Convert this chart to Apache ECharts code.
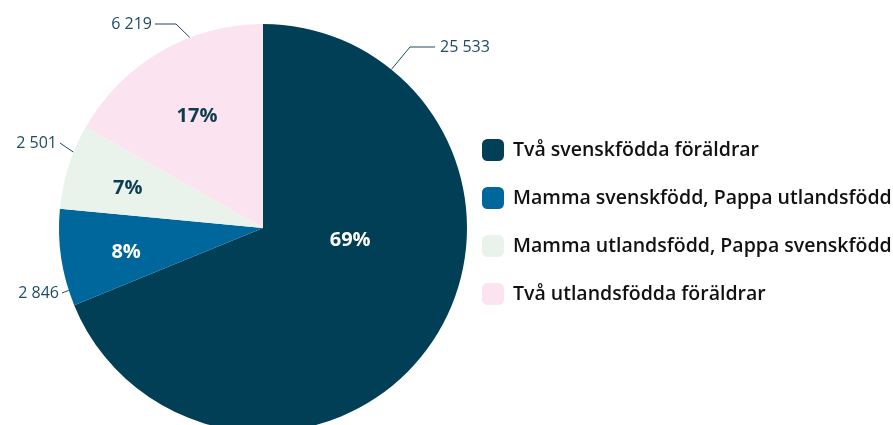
<!DOCTYPE html>
<html>
<head>
<meta charset="utf-8">
<script src="https://cdn.jsdelivr.net/npm/echarts@6/dist/echarts.min.js"></script>
<style>
  html, body { margin: 0; padding: 0; background: #fff; }
  #chart { width: 893px; height: 425px; }
</style>
</head>
<body>
<div id="chart"></div>
<script>
// data
var categories = ['Två svenskfödda föräldrar', 'Mamma svenskfödd, Pappa utlandsfödd', 'Mamma utlandsfödd, Pappa svenskfödd', 'Två utlandsfödda föräldrar'];
var values = [25533, 2846, 2501, 6219];
var valueLabels = ['25 533', '2 846', '2 501', '6 219'];
var colors = ['#003f56', '#00679c', '#e9f3ec', '#fbe4ef'];
var pctColors = ['#ffffff', '#ffffff', '#0a3d52', '#0a3d52'];

var cx = 263, cy = 228, R = 204;
var total = values.reduce(function (a, b) { return a + b; }, 0);

// where the outside label lines touch the pie (degrees) and which side the text goes
var outer = [
    { a: 51, elbow: [410, 47], end: [435, 47], side: 'right' },
    { a: 197.8, elbow: [62, 293], end: [62, 293], side: 'left' },
    { a: 158.2, elbow: [60, 143], end: [60, 143], side: 'left' },
    { a: 111, elbow: [176, 24], end: [155, 24], side: 'left' }
];
// position of the percentage inside each slice (polar, from center)
var inner = [
    { a: -8, r: 88 },
    { a: 190, r: 139 },
    { a: 163.5, r: 141 },
    { a: 120.5, r: 130 }
];

function polar(a, r) {
    var rad = a * Math.PI / 180;
    return [cx + r * Math.cos(rad), cy - r * Math.sin(rad)];
}

var myChart = echarts.init(document.getElementById('chart'));
var option = {
    animation: false,
    color: colors,
    legend: {
        orient: 'vertical',
        left: 482,
        top: 139,
        padding: 0,
        itemWidth: 22,
        itemHeight: 22,
        itemGap: 26,
        icon: 'roundRect',
        textStyle: {
            fontFamily: 'Open Sans',
            fontSize: 19.5,
            fontWeight: 600,
            color: '#111',
            padding: [0, 0, 0, 4]
        },
        data: categories
    },
    series: [
        {
            name: 'outer',
            type: 'pie',
            center: [cx, cy],
            radius: R,
            startAngle: 90,
            silent: true,
            itemStyle: { borderWidth: 0 },
            data: categories.map(function (c, i) {
                return { name: c, value: values[i] };
            }),
            label: {
                show: true,
                position: 'outside',
                overflow: 'none',
                formatter: function (p) { return valueLabels[p.dataIndex]; },
                fontFamily: 'Open Sans',
                fontSize: 16,
                color: '#1e4d62'
            },
            labelLine: {
                show: true,
                lineStyle: { color: '#1e4d62', width: 1 }
            },
            labelLayout: function (p) {
                var o = outer[p.dataIndex];
                var edge = polar(o.a, R);
                return {
                    x: o.side === 'right' ? o.end[0] + 5 : o.end[0] - 3,
                    y: o.end[1],
                    align: o.side === 'right' ? 'left' : 'right',
                    verticalAlign: 'middle',
                    labelLinePoints: [edge, o.elbow, o.end]
                };
            }
        },
        {
            name: 'inner',
            type: 'pie',
            center: [cx, cy],
            radius: R,
            startAngle: 90,
            silent: true,
            itemStyle: { color: 'transparent', borderWidth: 0 },
            data: categories.map(function (c, i) {
                return { name: c, value: values[i], label: { color: pctColors[i] } };
            }),
            label: {
                show: true,
                position: 'inside',
                overflow: 'none',
                formatter: function (p) {
                    return Math.round(p.value / total * 100) + '%';
                },
                fontFamily: 'Open Sans',
                fontSize: 20,
                fontWeight: 'bold'
            },
            labelLine: { show: false },
            labelLayout: function (p) {
                var q = inner[p.dataIndex];
                var pt = polar(q.a, q.r);
                return { x: pt[0], y: pt[1], align: 'center', verticalAlign: 'middle' };
            }
        }
    ]
};
myChart.setOption(option, true);
</script>
</body>
</html>
